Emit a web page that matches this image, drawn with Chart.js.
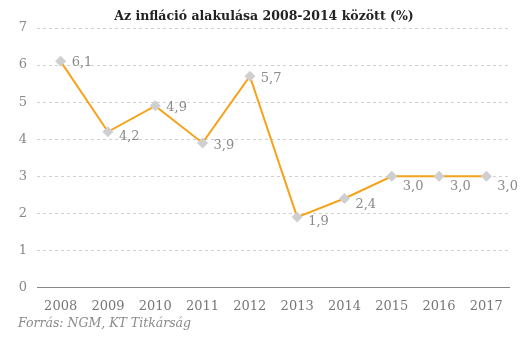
<!DOCTYPE html>
<html>
<head>
<meta charset="utf-8">
<script src="https://cdn.jsdelivr.net/npm/chart.js@4/dist/chart.umd.min.js"></script>
<style>
  html, body { margin: 0; padding: 0; background: #fff; }
  #wrap { width: 530px; height: 341px; position: relative; }
</style>
</head>
<body>
<div id="wrap"><canvas id="infl"></canvas></div>
<script>
// adatok
const evek = ['2008', '2009', '2010', '2011', '2012', '2013', '2014', '2015', '2016', '2017'];
const inflacio = [6.1, 4.2, 4.9, 3.9, 5.7, 1.9, 2.4, 3.0, 3.0, 3.0];
const yTicks = [0, 1, 2, 3, 4, 5, 6, 7];

// cimkek fuggoleges eltolasa (px), hogy ne takarja a vonal
const cimkeDy = [1, 5, 2, 3, 2, 5, 6, 10, 10, 10];

const serif = "'DejaVu Serif', 'Liberation Serif', serif";

const cimkePlugin = {
  id: 'cimkek',
  afterDatasetsDraw(chart) {
    const c = chart.ctx;
    const meta = chart.getDatasetMeta(0);
    c.save();
    c.font = "13px " + serif;
    c.fillStyle = '#8a8a8a';
    c.textAlign = 'left';
    c.textBaseline = 'middle';
    meta.data.forEach((pt, i) => {
      const txt = inflacio[i].toFixed(1).replace('.', ',');
      c.fillText(txt, pt.x + 11, pt.y + cimkeDy[i]);
    });
    c.restore();
  }
};

const ctx = document.getElementById('infl').getContext('2d');
new Chart(ctx, {
  type: 'line',
  data: {
    labels: evek,
    datasets: [{
      data: inflacio,
      borderColor: '#f5a31a',
      borderWidth: 2,
      tension: 0,
      pointStyle: 'rectRot',
      pointRadius: 5.5,
      pointBackgroundColor: '#cfcfcf',
      pointBorderColor: '#cfcfcf',
      pointBorderWidth: 0
    }]
  },
  options: {
    responsive: true,
    maintainAspectRatio: false,
    animation: false,
    layout: { padding: { left: 18, right: 20, top: 4, bottom: 11 } },
    plugins: {
      legend: { display: false },
      tooltip: { enabled: false },
      title: {
        display: true,
        text: 'Az infláció alakulása 2008-2014 között (%)',
        color: '#222',
        font: { family: serif, size: 12.5, weight: 'bold' },
        padding: { top: 5, bottom: 4 }
      },
      subtitle: {
        display: true,
        position: 'bottom',
        align: 'start',
        text: 'Forrás: NGM, KT Titkárság',
        color: '#8a8a8a',
        font: { family: serif, size: 12.5, style: 'italic', lineHeight: 1 },
        padding: { top: 1, bottom: 0 }
      }
    },
    scales: {
      x: {
        offset: true,
        grid: { display: false, drawTicks: true, tickLength: 10 },
        border: { display: false },
        ticks: {
          color: '#777',
          font: { family: serif, size: 13, lineHeight: 1 },
          maxRotation: 0,
          padding: 3
        }
      },
      y: {
        min: 0,
        max: 7,
        afterBuildTicks(axis) {
          axis.ticks = yTicks.map(v => ({ value: v }));
        },
        afterFit(axis) { axis.width = 19; },
        grid: {
          drawTicks: false,
          color: c => c.tick && c.tick.value === 0 ? '#888' : '#d0d0d0',
          lineWidth: 1
        },
        border: {
          display: false,
          dash: c => c.tick && c.tick.value === 0 ? [] : [3, 3]
        },
        ticks: {
          color: '#888',
          font: { family: serif, size: 13 },
          padding: 10,
          stepSize: 1
        }
      }
    }
  },
  plugins: [cimkePlugin]
});
</script>
</body>
</html>
